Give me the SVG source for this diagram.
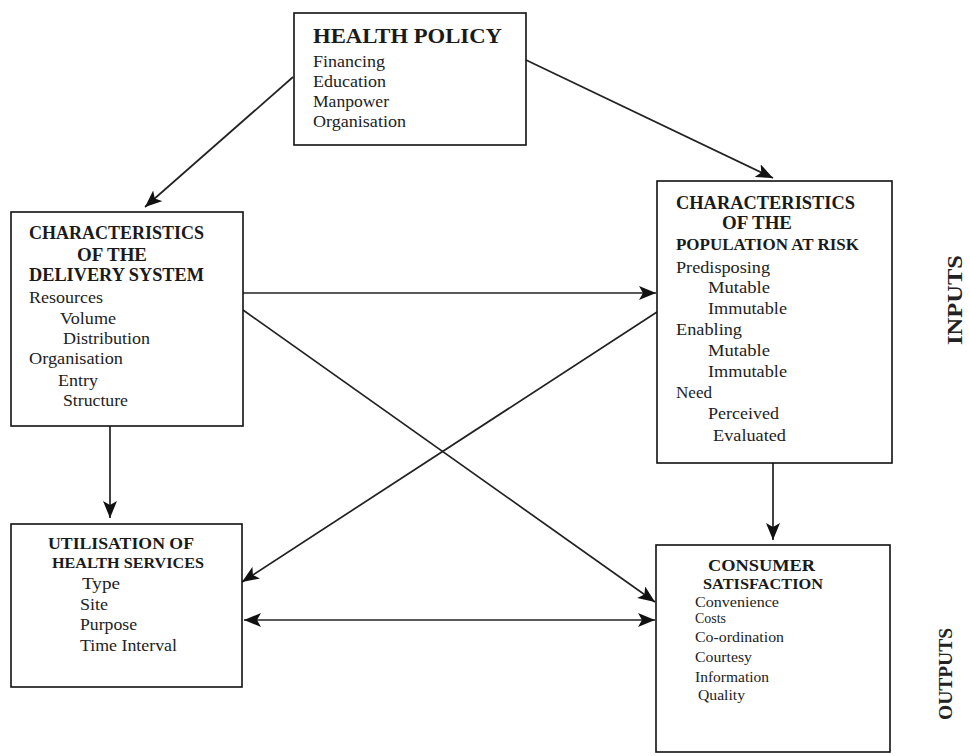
<svg xmlns="http://www.w3.org/2000/svg" width="970" height="756" viewBox="0 0 970 756">
<defs>
<marker id="ah" markerUnits="userSpaceOnUse" markerWidth="18" markerHeight="14" refX="17" refY="7" orient="auto-start-reverse">
<path d="M0,0 L17,7 L0,14 L4,7 Z" fill="#111"/>
</marker>
<style>
.box{fill:#fff;stroke:#111;stroke-width:1.6}
.h{font-family:"Liberation Serif","Times New Roman",serif;font-weight:bold;fill:#1a1a1a}
.t{font-family:"Liberation Serif","Times New Roman",serif;fill:#222;font-size:17px}
.s{font-family:"Liberation Serif","Times New Roman",serif;fill:#222;font-size:15px}
.c{fill:none;stroke:#222;stroke-width:1.7}
.side{font-family:"Liberation Serif","Times New Roman",serif;font-weight:bold;fill:#222}
</style>
</defs>
<rect width="970" height="756" fill="#fff"/>

<g id="connectors">
<path class="c" d="M293,77 L145,207" marker-end="url(#ah)"/>
<path class="c" d="M526,60 L773,178" marker-end="url(#ah)"/>
<path class="c" d="M243,293 L656,293" marker-end="url(#ah)"/>
<path class="c" d="M243,310 L655,602" marker-end="url(#ah)"/>
<path class="c" d="M657,312 L242,582" marker-end="url(#ah)"/>
<path class="c" d="M110,426 L110,518" marker-end="url(#ah)"/>
<path class="c" d="M773,463 L773,540" marker-end="url(#ah)"/>
<path class="c" d="M244,620 L655,620" marker-start="url(#ah)" marker-end="url(#ah)"/>
</g>

<g id="health-policy">
<rect class="box" x="294" y="13" width="232" height="132"/>
<text class="h" x="313" y="43" font-size="21" textLength="189" lengthAdjust="spacingAndGlyphs">HEALTH POLICY</text>
<text class="t" x="313" y="67" textLength="72" lengthAdjust="spacingAndGlyphs">Financing</text>
<text class="t" x="313" y="87" textLength="73" lengthAdjust="spacingAndGlyphs">Education</text>
<text class="t" x="313" y="107" textLength="76" lengthAdjust="spacingAndGlyphs">Manpower</text>
<text class="t" x="313" y="127" textLength="93" lengthAdjust="spacingAndGlyphs">Organisation</text>
</g>

<g id="delivery-system">
<rect class="box" x="11" y="212" width="232" height="214"/>
<text class="h" x="29" y="239" font-size="18" textLength="175" lengthAdjust="spacingAndGlyphs">CHARACTERISTICS</text>
<text class="h" x="77" y="261" font-size="18" textLength="70" lengthAdjust="spacingAndGlyphs">OF THE</text>
<text class="h" x="29" y="281" font-size="18" textLength="175" lengthAdjust="spacingAndGlyphs">DELIVERY SYSTEM</text>
<text class="t" x="29" y="303" textLength="74" lengthAdjust="spacingAndGlyphs">Resources</text>
<text class="t" x="60" y="324" textLength="56" lengthAdjust="spacingAndGlyphs">Volume</text>
<text class="t" x="63" y="344" textLength="87" lengthAdjust="spacingAndGlyphs">Distribution</text>
<text class="t" x="29" y="364" textLength="94" lengthAdjust="spacingAndGlyphs">Organisation</text>
<text class="t" x="58" y="386" textLength="40" lengthAdjust="spacingAndGlyphs">Entry</text>
<text class="t" x="63" y="406" textLength="65" lengthAdjust="spacingAndGlyphs">Structure</text>
</g>

<g id="population-at-risk">
<rect class="box" x="657" y="181" width="235" height="282"/>
<text class="h" x="676" y="209" font-size="18" textLength="179" lengthAdjust="spacingAndGlyphs">CHARACTERISTICS</text>
<text class="h" x="722" y="229" font-size="18" textLength="70" lengthAdjust="spacingAndGlyphs">OF THE</text>
<text class="h" x="676" y="250" font-size="16" textLength="183" lengthAdjust="spacingAndGlyphs">POPULATION AT RISK</text>
<text class="t" x="676" y="273" textLength="94" lengthAdjust="spacingAndGlyphs">Predisposing</text>
<text class="t" x="708" y="293" textLength="62" lengthAdjust="spacingAndGlyphs">Mutable</text>
<text class="t" x="708" y="314" textLength="79" lengthAdjust="spacingAndGlyphs">Immutable</text>
<text class="t" x="676" y="335" textLength="66" lengthAdjust="spacingAndGlyphs">Enabling</text>
<text class="t" x="708" y="356" textLength="62" lengthAdjust="spacingAndGlyphs">Mutable</text>
<text class="t" x="708" y="377" textLength="79" lengthAdjust="spacingAndGlyphs">Immutable</text>
<text class="t" x="676" y="398" textLength="36" lengthAdjust="spacingAndGlyphs">Need</text>
<text class="t" x="708" y="419" textLength="71" lengthAdjust="spacingAndGlyphs">Perceived</text>
<text class="t" x="713" y="441" textLength="73" lengthAdjust="spacingAndGlyphs">Evaluated</text>
</g>

<g id="utilisation">
<rect class="box" x="11" y="524" width="231" height="163"/>
<text class="h" x="48" y="549" font-size="17" textLength="146" lengthAdjust="spacingAndGlyphs">UTILISATION OF</text>
<text class="h" x="52" y="568" font-size="15" textLength="152" lengthAdjust="spacingAndGlyphs">HEALTH SERVICES</text>
<text class="t" x="82" y="589" textLength="38" lengthAdjust="spacingAndGlyphs">Type</text>
<text class="t" x="80" y="610" textLength="28" lengthAdjust="spacingAndGlyphs">Site</text>
<text class="t" x="80" y="630" textLength="57" lengthAdjust="spacingAndGlyphs">Purpose</text>
<text class="t" x="80" y="651" textLength="97" lengthAdjust="spacingAndGlyphs">Time Interval</text>
</g>

<g id="consumer-satisfaction">
<rect class="box" x="656" y="545" width="234" height="207"/>
<text class="h" x="708" y="571" font-size="17" textLength="107" lengthAdjust="spacingAndGlyphs">CONSUMER</text>
<text class="h" x="703" y="589" font-size="15" textLength="120" lengthAdjust="spacingAndGlyphs">SATISFACTION</text>
<text class="s" x="695" y="607" textLength="84" lengthAdjust="spacingAndGlyphs">Convenience</text>
<text class="s" x="695" y="623" textLength="31" lengthAdjust="spacingAndGlyphs">Costs</text>
<text class="s" x="695" y="642" textLength="89" lengthAdjust="spacingAndGlyphs">Co-ordination</text>
<text class="s" x="695" y="662" textLength="57" lengthAdjust="spacingAndGlyphs">Courtesy</text>
<text class="s" x="695" y="682" textLength="74" lengthAdjust="spacingAndGlyphs">Information</text>
<text class="s" x="698" y="700" textLength="47" lengthAdjust="spacingAndGlyphs">Quality</text>
</g>

<g id="inputs-label">
<text class="side" transform="translate(962,300) rotate(-90)" text-anchor="middle" font-size="22" textLength="90" lengthAdjust="spacingAndGlyphs">INPUTS</text>
</g>
<g id="outputs-label">
<text class="side" transform="translate(952,674) rotate(-90)" text-anchor="middle" font-size="19" textLength="92" lengthAdjust="spacingAndGlyphs">OUTPUTS</text>
</g>
</svg>
